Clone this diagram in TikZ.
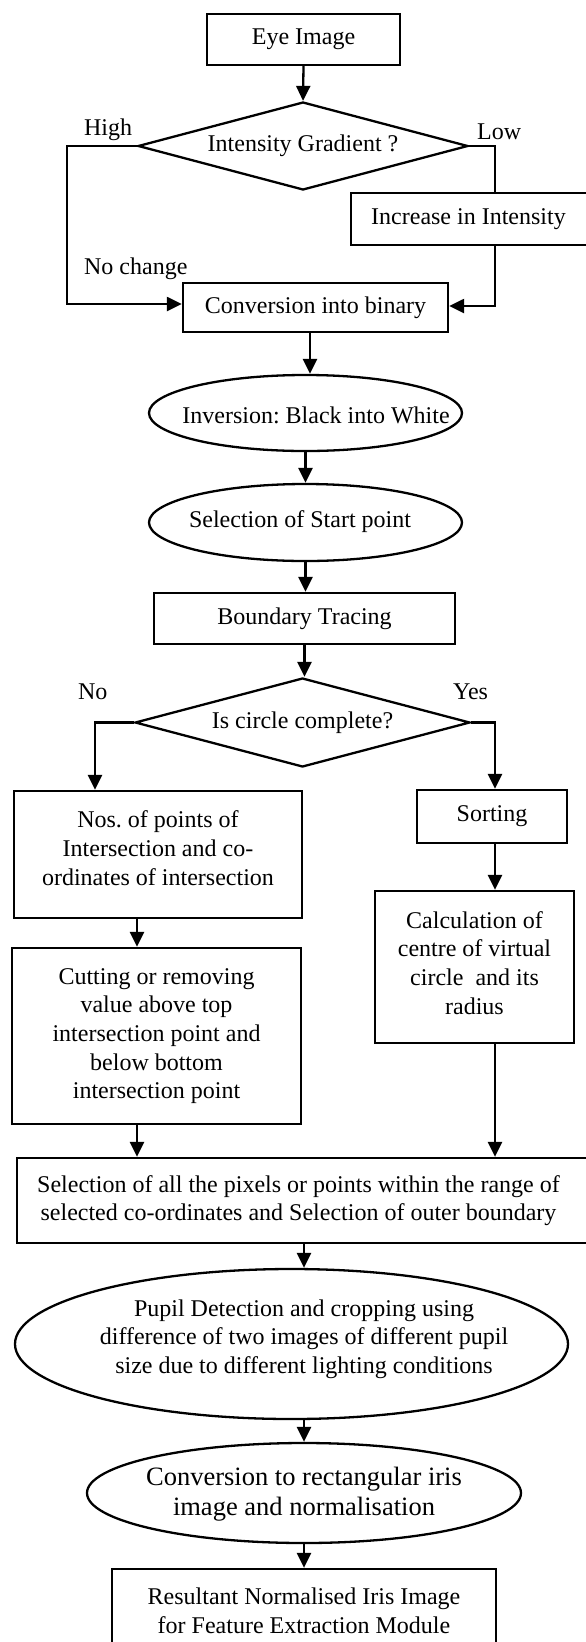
\documentclass[tikz,border=0pt]{standalone}
\usepackage{fontspec}
\setmainfont{Liberation Serif}
\usetikzlibrary{shapes.geometric,arrows.meta}
\frenchspacing
\begin{document}
\begin{tikzpicture}[x=1pt,y=-1pt,line width=2.3pt,
  txt/.style={font=\fontsize{24}{28.7}\selectfont},
  box/.style={draw,rectangle,inner sep=0pt,align=center,txt},
  ell/.style={draw,ellipse,inner sep=0pt},
  etxt/.style={inner sep=0pt,align=center,txt},
  dec/.style={draw,diamond,aspect=3.8,inner sep=0pt,align=center,txt},
  lbl/.style={inner sep=0pt,anchor=base west,txt},
  arr/.style={-{Triangle[length=15pt,width=14pt]}}]
\useasboundingbox (0,0) rectangle (586,1642);
\clip (0,0) rectangle (586,1642);
% nodes
\node[box,minimum width=193pt,minimum height=51pt] (eye) at (303.5,39.5) {Eye Image};
\node[dec,minimum width=330pt,minimum height=88pt] (d1) at (303,146) {Intensity Gradient ?};
\node[box,minimum width=239pt,minimum height=52pt] (inc) at (470.5,219) {\hspace*{-4pt}Increase in Intensity};
\node[box,minimum width=265pt,minimum height=49pt] (conv) at (315.5,307.5) {Conversion into binary};
\node[ell,minimum width=313pt,minimum height=76pt] (inv) at (305.5,413) {};
\node[etxt] (tinv) at (316,415) {Inversion: Black into White};
\node[ell,minimum width=313pt,minimum height=77pt] (sel) at (305.5,522.5) {};
\node[etxt] (tsel) at (300,522) {Selection of Start point};
\node[box,minimum width=301pt,minimum height=51pt] (bt) at (304.5,618.5) {Boundary Tracing};
\node[dec,minimum width=335pt,minimum height=89pt] (d2) at (302.5,722.5) {Is circle complete?};
\node[box,minimum width=288pt,minimum height=127pt] (nos) at (158,854.5) {};
\node[etxt] (tnos) at (158,848) {Nos. of points of\\Intersection and co-\\ordinates of intersection};
\node[box,minimum width=150pt,minimum height=53pt] (sort) at (492,816.5) {Sorting};
\node[box,minimum width=289pt,minimum height=176pt] (cut) at (156.5,1036) {Cutting or removing\\value above top\\intersection point and\\below bottom\\intersection point};
\node[box,minimum width=199pt,minimum height=152pt] (calc) at (474.5,967) {};
\node[etxt] (tcalc) at (474.5,963) {Calculation of\\centre of virtual\\circle\ \ and its\\radius};
\node[box,minimum width=575pt,minimum height=85pt] (selall) at (304.5,1200.5) {\hspace*{-12pt}Selection of all the pixels or points within the range of\\\hspace*{-12pt}selected co-ordinates and Selection of outer boundary};
\node[ell,minimum width=553pt,minimum height=150pt] (pupil) at (291.5,1344) {};
\node[etxt] (tpupil) at (304,1339) {Pupil Detection and cropping using\\difference of two images of different pupil\\size due to different lighting conditions};
\node[ell,minimum width=434pt,minimum height=100pt] (conv2) at (304,1493) {};
\node[etxt,font=\fontsize{26.5}{30}\selectfont] (tconv2) at (304,1494) {Conversion to rectangular iris\\image and normalisation};
\node[box,minimum width=384pt,minimum height=77pt] (res) at (304,1607.5) {};
\node[etxt] (tres) at (304,1611) {Resultant Normalised Iris Image\\for Feature Extraction Module};
% labels
\node[lbl] (lhigh) at (83,135) {High};
\node[lbl] (llow) at (476,139) {Low};
\node[lbl] (lnoch) at (83,274) {No change};
\node[lbl] (lno) at (77,699) {No};
\node[lbl] (lyes) at (452,699) {Yes};
% helper columns
\coordinate (xlow) at (495,0);
\coordinate (xno) at (95,0);
\coordinate (xcut) at (137,0);
\coordinate (xsp) at (310,0);
% connectors
\draw[arr] (eye.south) -- (d1.north);
\draw[arr] (d1.west) -- ++(-70,0) |- ([yshift=3.5pt]conv.west);
\draw (d1.east) -| (inc.north -| xlow);
\draw[arr] (inc.south -| xlow) |- ([yshift=1.5pt]conv.east);
\draw[arr] (conv.south -| xsp) -- (inv.north -| xsp);
\draw[arr] (inv.south) -- (sel.north);
\draw[arr] (sel.south) -- (sel.south |- bt.north);
\draw[arr] (bt.south) -- (bt.south |- d2.north);
\draw[arr] (d2.west) -| (nos.north -| xno);
\draw[arr] (d2.east) -| (sort.north -| xlow);
\draw[arr] (nos.south -| xcut) -- (cut.north -| xcut);
\draw[arr] (sort.south -| xlow) -- (calc.north -| xlow);
\draw[arr] (cut.south -| xcut) -- (selall.north -| xcut);
\draw[arr] (calc.south -| xlow) -- (selall.north -| xlow);
\draw[arr] (selall.south -| res.north) -- (pupil.north -| res.north);
\draw[arr] (pupil.south -| res.north) -- (conv2.north);
\draw[arr] (conv2.south) -- (res.north);
\end{tikzpicture}
\end{document}
